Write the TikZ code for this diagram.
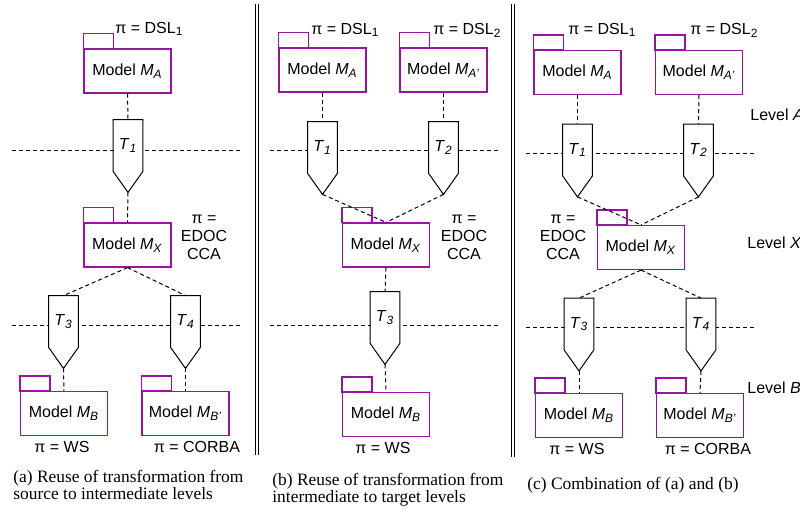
\documentclass[tikz,border=0pt]{standalone}
\usepackage{fontspec}
\setmainfont{Liberation Serif}
\setsansfont{Liberation Sans}
\usetikzlibrary{calc, positioning}

\definecolor{pkgpurple}{RGB}{150,20,160}

\newcommand{\mdl}[1]{Model \textit{M}\textsubscript{\textit{#1}}}
\newcommand{\trf}[1]{\raisebox{-2.5pt}{\textit{T}\textsubscript{\textit{#1}}}}

\begin{document}
\begin{tikzpicture}[x=0.5pt, y=-0.5pt,
	every node/.style={font=\sffamily\fontsize{8}{9}\selectfont, inner sep=0pt},
	model/.style={draw=pkgpurple, fill=white, line width=0.6pt,
		minimum width=43.5pt, minimum height=22pt},
	tab/.style={draw=pkgpurple, line width=0.6pt},
	trans/.style={fill=white, minimum width=14.5pt, minimum height=25.5pt},
	conn/.style={dash pattern=on 2pt off 1.5pt, line width=0.5pt},
	sep/.style={double, double distance=1pt, line width=0.5pt},
	caption/.style={font=\rmfamily\fontsize{8.7}{8.5}\selectfont, align=left, anchor=west}]

			\useasboundingbox (0,0) rectangle (800,514);

			% Level lines
			\foreach \xa/\xb/\y in {12/242/150, 12/242/325, 270/501/150,
				270/501/325, 526/756/153, 526/756/327}
				\draw[conn] (\xa,\y) -- (\xb,\y);

			% Separators
			\draw[sep] (256.8,4) -- (256.8,455);
			\draw[sep] (512.5,4) -- (512.5,457);

			% Models of (a)
			\node[model] (aMA) at (127.5,71) {\mdl{A}};
			\node[model] (aMX) at (127.5,245) {\mdl{X}};
			\node[model] (aMB) at (64,413.5) {\mdl{B}};
			\node[model] (aMBp) at (185.5,413.5) {\mdl{B'}};

			% Models of (b)
			\node[model] (bMA) at (322.5,70) {\mdl{A}};
			\node[model] (bMAp) at (443.5,70) {\mdl{A'}};
			\node[model] (bMX) at (386,245) {\mdl{X}};
			\node[model] (bMB) at (386,414.5) {\mdl{B}};

			% Models of (c)
			\node[model] (cMA) at (577.5,72.5) {\mdl{A}};
			\node[model] (cMAp) at (699,72.5) {\mdl{A'}};
			\node[model] (cMX) at (641,247.5) {\mdl{X}};
			\node[model] (cMB) at (579,415.5) {\mdl{B}};
			\node[model] (cMBp) at (700,415.5) {\mdl{B'}};

			\foreach \m in {aMA,aMX,aMB,aMBp,bMA,bMAp,bMX,bMB,cMA,cMAp,cMX,cMB,cMBp}
				\draw[tab] (\m.north west) rectangle ++(30,-15);

			% Transformations
			\node[trans] (aT1) at (128,145.5) {\trf{1}};
			\node[trans] (aT3) at (63.5,321.5) {\trf{3}};
			\node[trans] (aT4) at (185.5,321.5) {\trf{4}};
			\node[trans] (bT1) at (322.5,147.5) {\trf{1}};
			\node[trans] (bT2) at (443.5,147.5) {\trf{2}};
			\node[trans] (bT3) at (385,317.5) {\trf{3}};
			\node[trans] (cT1) at (577.5,150) {\trf{1}};
			\node[trans] (cT2) at (698.5,150) {\trf{2}};
			\node[trans] (cT3) at (579,324) {\trf{3}};
			\node[trans] (cT4) at (701,324) {\trf{4}};

			\foreach \t in {aT1,aT3,aT4,bT1,bT2,bT3,cT1,cT2,cT3,cT4}{
				\coordinate (\t-tip) at ($(\t.south)+(0,21)$);
				\fill[white] (\t.south west) -- (\t-tip) -- (\t.south east) -- cycle;
				\draw[line width=0.5pt] (\t.north west) -- (\t.south west) -- (\t-tip)
					-- (\t.south east) -- (\t.north east) -- cycle;
			}

			% Dashed links
			\draw[conn] (aMA.south) -- (aT1.north);
			\draw[conn] (aT1-tip) -- (aMX.north);
			\draw[conn] (aMX.south) -- (aT3.north);
			\draw[conn] (aMX.south) -- (aT4.north);
			\draw[conn] (aT3-tip) -- (aMB.north);
			\draw[conn] (aT4-tip) -- (aMBp.north);

			\draw[conn] (bMA.south) -- (bT1.north);
			\draw[conn] (bMAp.south) -- (bT2.north);
			\draw[conn] (bT1-tip) -- (bMX.north);
			\draw[conn] (bT2-tip) -- (bMX.north);
			\draw[conn] (bMX.south) -- (bT3.north);
			\draw[conn] (bT3-tip) -- (bMB.north);

			\draw[conn] (cMA.south) -- (cT1.north);
			\draw[conn] (cMAp.south) -- (cT2.north);
			\draw[conn] (cT1-tip) -- (cMX.north);
			\draw[conn] (cT2-tip) -- (cMX.north);
			\draw[conn] (cMX.south) -- (cT3.north);
			\draw[conn] (cMX.south) -- (cT4.north);
			\draw[conn] (cT3-tip) -- (cMB.north);
			\draw[conn] (cT4-tip) -- (cMBp.north);

			% Platform labels
			\node[anchor=west] (aPA) at (115,29) {π = DSL\textsubscript{1}};
			\node[align=center] (aPX) at (204,237) {π =\\EDOC\\CCA};
			\node (aPB) at (62,447) {π = WS};
			\node (aPBp) at (197,447) {π = CORBA};

			\node[anchor=west] (bPA) at (311,30) {π = DSL\textsubscript{1}};
			\node[anchor=west] (bPAp) at (433,30) {π = DSL\textsubscript{2}};
			\node[align=center] (bPX) at (464,237) {π =\\EDOC\\CCA};
			\node (bPB) at (383,448) {π = WS};

			\node[anchor=west] (cPA) at (568,30) {π = DSL\textsubscript{1}};
			\node[anchor=west] (cPAp) at (690,30) {π = DSL\textsubscript{2}};
			\node[align=center] (cPX) at (563,237) {π =\\EDOC\\CCA};
			\node (cPB) at (577,449) {π = WS};
			\node (cPBp) at (708,449) {π = CORBA};

			% Levels
			\node[anchor=west] (lvA) at (750,115) {Level \textit{A}};
			\node[anchor=west] (lvX) at (747,243) {Level \textit{X}};
			\node[anchor=west] (lvB) at (747,388) {Level \textit{B}};

			% Captions
			\node[caption] (capA) at (13,484.5) {(a) Reuse of transformation from\\source to intermediate levels};
			\node[caption] (capB) at (272,490) {(b) Reuse of transformation from\\intermediate to target levels};
			\node[caption] (capC) at (527,485) {(c) Combination of (a) and (b)};

		\end{tikzpicture}
\end{document}
